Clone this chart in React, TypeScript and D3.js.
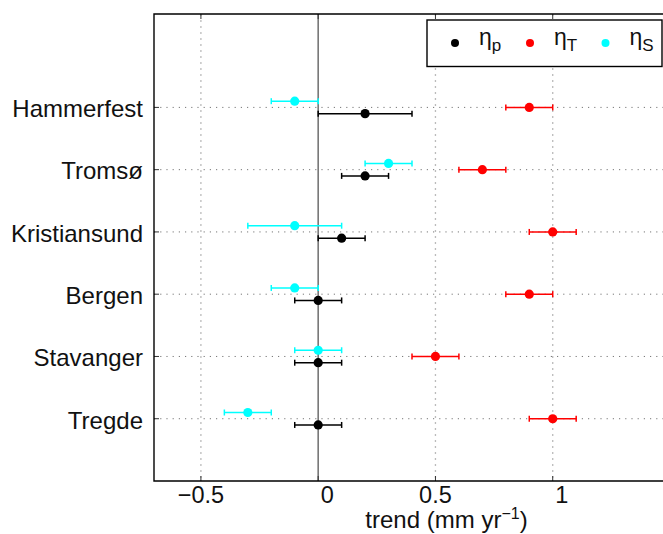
import React from 'react';
import * as d3 from 'd3';

const stations = ['Tregde', 'Stavanger', 'Bergen', 'Kristiansund', 'Tromsø', 'Hammerfest'];
// trend values and half-widths of the error bars, same order as stations
const etaP = [0.0, 0.0, 0.0, 0.1, 0.2, 0.2];
const etaPErr = [0.1, 0.1, 0.1, 0.1, 0.1, 0.2];
const etaT = [1.0, 0.5, 0.9, 1.0, 0.7, 0.9];
const etaTErr = [0.1, 0.1, 0.1, 0.1, 0.1, 0.1];
const etaS = [-0.3, 0.0, -0.1, -0.1, 0.3, -0.1];
const etaSErr = [0.1, 0.1, 0.1, 0.2, 0.1, 0.1];
const xTicks = [-0.5, 0, 0.5, 1];
const xTickLabels = ['−0.5', '0', '0.5', '1'];

const W = 663;
const H = 534;
const left = 154;
const top = 14;
const bottom = 481;
const right = 670;
const font = '"Liberation Sans", Arial, Helvetica, sans-serif';

const series = [
  { key: 'p', values: etaP, errs: etaPErr, color: '#000000', shift: -0.1 },
  { key: 'T', values: etaT, errs: etaTErr, color: '#ff0000', shift: 0 },
  { key: 'S', values: etaS, errs: etaSErr, color: '#00ffff', shift: 0.1 },
];

export default function App() {
  const x = d3.scaleLinear().domain([-0.7, 1.5]).range([left, right]);
  const y = d3.scaleLinear().domain([0, 7.5]).range([bottom, top]);
  const rows = stations.map((s, i) => i + 1);

  return (
    <svg width={W} height={H} style={{ position: 'absolute', left: 0, top: 0, background: '#fff' }} fontFamily={font}>
      {/* vertical grid */}
      {xTicks.filter(t => t !== 0).map(t => (
        <line key={'gx' + t} x1={x(t)} x2={x(t)} y1={top} y2={bottom}
          stroke="#bbbbbb" strokeWidth={1.3} strokeDasharray="2 4" />
      ))}
      {/* horizontal grid */}
      {rows.map(r => (
        <line key={'gy' + r} x1={left} x2={right} y1={y(r)} y2={y(r)}
          stroke="#777777" strokeWidth={1} strokeDasharray="1.2 5" />
      ))}
      {/* zero line */}
      <line x1={x(0)} x2={x(0)} y1={top} y2={bottom} stroke="#777777" strokeWidth={1.6} />

      {/* ticks */}
      {xTicks.map(t => (
        <g key={'tx' + t} stroke="#333" strokeWidth={1}>
          <line x1={x(t)} x2={x(t)} y1={bottom} y2={bottom - 5} />
          <line x1={x(t)} x2={x(t)} y1={top} y2={top + 5} />
        </g>
      ))}
      {rows.map(r => (
        <line key={'ty' + r} x1={left} x2={left + 5} y1={y(r)} y2={y(r)} stroke="#333" strokeWidth={1} />
      ))}

      {/* error bars and markers */}
      {series.map(s => (
        <g key={s.key}>
          {s.values.map((v, i) => {
            const cy = y(rows[i] + s.shift);
            const x0 = x(v - s.errs[i]);
            const x1 = x(v + s.errs[i]);
            return (
              <g key={i}>
                <line x1={x0} x2={x1} y1={cy} y2={cy} stroke={s.color} strokeWidth={1.5} />
                <line x1={x0} x2={x0} y1={cy - 3} y2={cy + 3} stroke={s.color} strokeWidth={1.5} />
                <line x1={x1} x2={x1} y1={cy - 3} y2={cy + 3} stroke={s.color} strokeWidth={1.5} />
                <circle cx={x(v)} cy={cy} r={4.6} fill={s.color} />
              </g>
            );
          })}
        </g>
      ))}

      {/* axes frame */}
      <path d={`M${right},${top}H${left}V${bottom}H${right}`} fill="none" stroke="#000" strokeWidth={1.4} />

      {/* y labels */}
      {stations.map((s, i) => (
        <text key={s} x={143} y={y(rows[i]) + 9.8} textAnchor="end" fontSize={24} fill="#111">{s}</text>
      ))}
      {/* x tick labels */}
      {xTicks.map((t, i) => (
        <text key={'xl' + t} x={x(t) + (Number.isInteger(t) ? 9 : 0)} y={503} textAnchor="middle"
          fontSize={23.5} fill="#111">{xTickLabels[i]}</text>
      ))}
      <text x={446.5} y={528} textAnchor="middle" fontSize={24} fill="#111">
        trend (mm yr<tspan dy={-9} fontSize={16}>−1</tspan><tspan dy={9}>)</tspan>
      </text>

      {/* legend */}
      <rect x={427} y={20} width={235} height={46.5} fill="#fff" stroke="#000" strokeWidth={1.4} />
      {series.map((s, i) => {
        const lx = [455, 530, 605.5][i];
        return (
          <g key={'lg' + s.key}>
            <circle cx={lx} cy={43} r={4} fill={s.color} />
            <text x={lx + 24} y={45} fontSize={23} fill="#111">
              η<tspan dy={6} fontSize={17}>{s.key}</tspan>
            </text>
          </g>
        );
      })}
    </svg>
  );
}
